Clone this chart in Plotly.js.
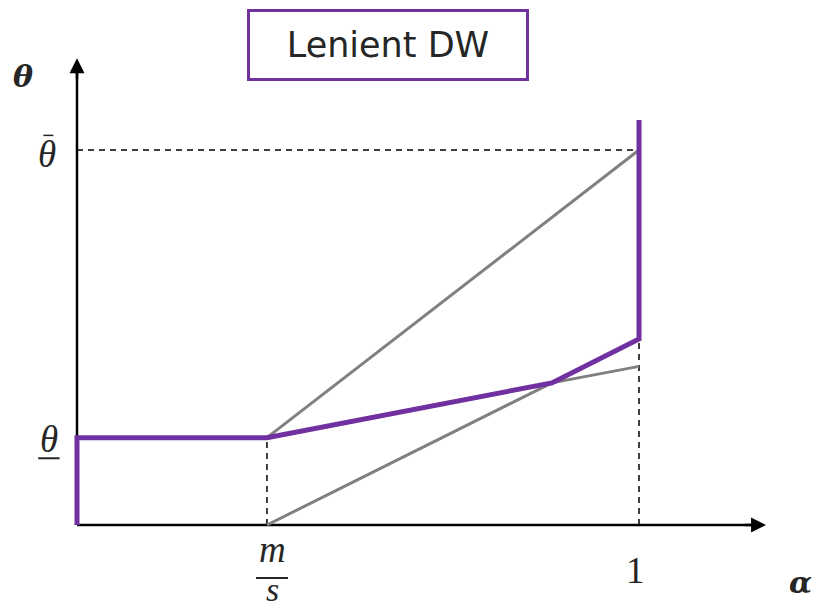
<!DOCTYPE html>
<html>
<head>
<meta charset="utf-8">
<script src="https://cdn.plot.ly/plotly-3.0.1.min.js"></script>
<style>html,body{margin:0;padding:0;background:#fff;}#chart{width:816px;height:614px;}</style>
</head>
<body>
<div id="chart"></div>
<script>
// Key positions along alpha axis
var alphaTicks = ["m/s", "1"];
var alphaMS = 0.338;      // m/s
var alphaKink = 0.845;    // crossing point
var alphaOne = 1.0;

// Theta levels
var thetaLow = 0.233;     // underline theta
var thetaHigh = 1.0;      // bar theta
var thetaKink = 0.379;
var purpleEndTheta = 0.496;
var purpleTopTheta = 1.08;
var gray2EndTheta = 0.423;

// Series
var purpleX = [0, 0, alphaMS, alphaKink, alphaOne, alphaOne];
var purpleY = [0, thetaLow, thetaLow, thetaKink, purpleEndTheta, purpleTopTheta];
var gray1X = [alphaMS, alphaOne];
var gray1Y = [thetaLow, thetaHigh];
var gray2X = [alphaMS, alphaKink, alphaOne];
var gray2Y = [0, thetaKink, gray2EndTheta];

var xMaxAxis = 1.226, yMaxAxis = 1.245;

var PURPLE = '#7030A0', GRAY = '#808080', INK = '#262626';
var boldFont = {family: 'DejaVu Serif', size: 30, color: INK};
var mathFont = {family: 'Liberation Serif', size: 37, color: INK};
var sFont = {family: 'Liberation Serif', size: 34, color: INK};

var traces = [
  // axes lines
  {x: [0, xMaxAxis - 0.02], y: [0, 0], mode: 'lines', line: {color: '#000', width: 2.5}, hoverinfo: 'skip'},
  {x: [0, 0], y: [0, yMaxAxis - 0.03], mode: 'lines', line: {color: '#000', width: 2.5}, hoverinfo: 'skip'},
  // dashed guides
  {x: [0, alphaOne], y: [thetaHigh, thetaHigh], mode: 'lines', line: {color: '#000', width: 1.5, dash: '6px,5px'}, hoverinfo: 'skip'},
  {x: [alphaMS, alphaMS], y: [0, thetaLow], mode: 'lines', line: {color: '#000', width: 1.5, dash: '6px,5px'}, hoverinfo: 'skip'},
  {x: [alphaOne, alphaOne], y: [0, purpleEndTheta], mode: 'lines', line: {color: '#000', width: 1.5, dash: '6px,5px'}, hoverinfo: 'skip'},
  // gray lines
  {x: gray1X, y: gray1Y, mode: 'lines', line: {color: GRAY, width: 3}, hoverinfo: 'skip'},
  {x: gray2X, y: gray2Y, mode: 'lines', line: {color: GRAY, width: 3}, hoverinfo: 'skip'},
  // purple
  {x: purpleX, y: purpleY, mode: 'lines', line: {color: PURPLE, width: 5}, hoverinfo: 'skip'}
];

var annotations = [
  // arrow heads
  {x: xMaxAxis, y: 0, ax: xMaxAxis - 0.04, ay: 0, axref: 'x', ayref: 'y', xref: 'x', yref: 'y', text: '', showarrow: true, arrowhead: 2, arrowsize: 1.2, arrowwidth: 2.5, arrowcolor: '#000', standoff: 0},
  {x: 0, y: yMaxAxis, ax: 0, ay: yMaxAxis - 0.06, axref: 'x', ayref: 'y', xref: 'x', yref: 'y', text: '', showarrow: true, arrowhead: 2, arrowsize: 1.2, arrowwidth: 2.5, arrowcolor: '#000', standoff: 0},
  // axis labels
  {x: -0.096, y: 1.197, xref: 'x', yref: 'y', text: '<b><i>θ</i></b>', showarrow: false, font: boldFont},
  {x: 1.2865, y: -0.152, xref: 'x', yref: 'y', text: '<b><i>α</i></b>', showarrow: false, font: boldFont},
  // tick-like labels
  {x: -0.053, y: thetaHigh, xref: 'x', yref: 'y', text: '<i>θ</i>', showarrow: false, font: mathFont, yshift: -4},
  {x: -0.05, y: thetaLow, xref: 'x', yref: 'y', text: '<i>θ</i>', showarrow: false, font: mathFont, yshift: -2},
  {x: 0.347, y: -0.066, xref: 'x', yref: 'y', text: '<i>m</i>', showarrow: false, font: mathFont},
  {x: 0.347, y: -0.173, xref: 'x', yref: 'y', text: '<i>s</i>', showarrow: false, font: sFont},
  {x: 0.993, y: -0.12, xref: 'x', yref: 'y', text: alphaTicks[1], showarrow: false, font: mathFont},
  // title box
  {x: 0.5525, y: 1.28, xref: 'x', yref: 'y', text: 'Lenient DW', showarrow: false,
   font: {family: 'DejaVu Sans', size: 35, color: INK},
   bordercolor: PURPLE, borderwidth: 3, borderpad: 0, bgcolor: '#fff', width: 276, height: 66}
];

var shapes = [
  // fraction bar of m/s
  {type: 'line', xref: 'x', yref: 'y', x0: 0.3185, x1: 0.3754, y0: -0.1413, y1: -0.1413, line: {color: INK, width: 2}},
  // bar over theta (upper bound)
  {type: 'line', xref: 'x', yref: 'y', x0: -0.060, x1: -0.042, y0: 1.039, y1: 1.039, line: {color: INK, width: 1.5}},
  // bar under theta (lower bound)
  {type: 'line', xref: 'x', yref: 'y', x0: -0.069, x1: -0.031, y0: 0.178, y1: 0.178, line: {color: INK, width: 2}}
];

var layout = {
  width: 816, height: 614,
  margin: {l: 0, r: 0, t: 0, b: 0},
  paper_bgcolor: '#fff', plot_bgcolor: '#fff',
  showlegend: false,
  xaxis: {range: [-0.137, 1.3149], visible: false, fixedrange: true},
  yaxis: {range: [-0.2373, 1.4], visible: false, fixedrange: true},
  annotations: annotations,
  shapes: shapes
};

Plotly.newPlot('chart', traces, layout, {displayModeBar: false, staticPlot: true});
</script>
</body>
</html>
